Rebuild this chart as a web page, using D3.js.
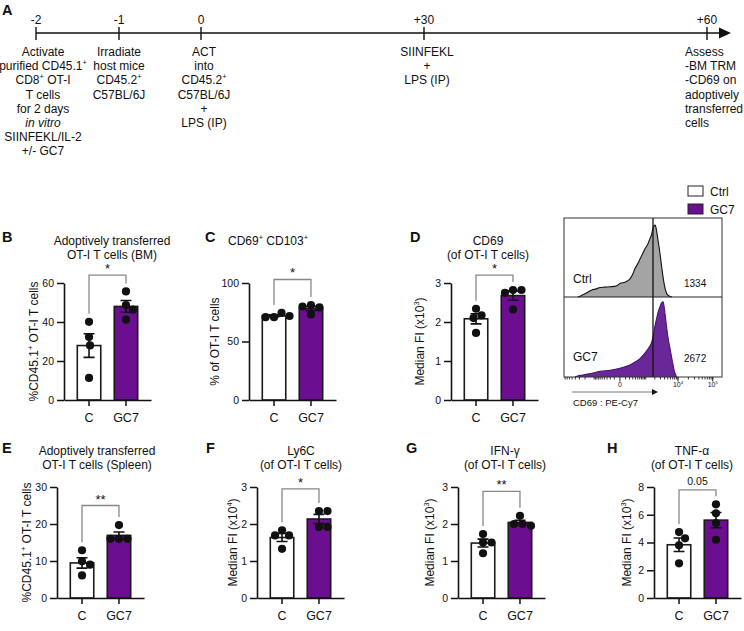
<!DOCTYPE html>
<html><head><meta charset="utf-8">
<script src="https://cdn.jsdelivr.net/npm/d3@7"></script>
<style>
body{margin:0;background:#fff}
svg{display:block}
text{font-family:"Liberation Sans",Arial,Helvetica,sans-serif;fill:#111}
</style>
</head><body>
<svg id="fig" width="744" height="631"></svg>
<script>
// ================= DATA =================
// Panel A timeline
const timelineDays = [-2, -1, 0, 30, 60];
const timelineTickLabels = ["-2", "-1", "0", "+30", "+60"];
const timelineNotes = [
  ["Activate", "purified CD45.1^{+}", "CD8^{+} OT-I", "T cells", "for 2 days", "~in vitro", "SIINFEKL/IL-2", "+/- GC7"],
  ["Irradiate", "host mice", "CD45.2^{+}", "C57BL/6J"],
  ["ACT", "into", "CD45.2^{+}", "C57BL/6J", "+", "LPS (IP)"],
  ["SIINFEKL", "+", "LPS (IP)"],
  ["Assess", "-BM TRM", "-CD69 on", "adoptively", "transferred", "cells"]
];
// groups & legend
const groups = ["C", "GC7"];
const legendLabels = ["Ctrl", "GC7"];

// Bar panels: individual mice
const bmCtrl = [40.1, 32.3, 28.0, 11.3];
const bmGC7 = [55.7, 48.7, 46.3, 41.2];
const cd103Ctrl = [70.8, 74.4, 70.8, 71.8];
const cd103GC7 = [81.2, 79.1, 73.1, 79.9];
const cd69Ctrl = [2.34, 2.17, 2.10, 1.72];
const cd69GC7 = [2.82, 2.82, 2.75, 2.32];
const spleenCtrl = [12.9, 9.9, 9.0, 6.1];
const spleenGC7 = [19.7, 16.0, 16.0, 16.0];
const ly6cCtrl = [1.83, 1.69, 1.69, 1.33];
const ly6cGC7 = [2.35, 2.35, 1.92, 1.92];
const ifngCtrl = [1.73, 1.50, 1.50, 1.21];
const ifngGC7 = [2.22, 2.00, 2.00, 1.95];
const tnfCtrl = [4.75, 4.30, 3.80, 2.50];
const tnfGC7 = [6.75, 6.10, 5.40, 4.20];

// y-axis tick values
const bmTicks = [0, 20, 40, 60];
const cd103Ticks = [0, 50, 100];
const cd69Ticks = [0, 1, 2, 3];
const spleenTicks = [0, 10, 20, 30];
const ly6cTicks = [0, 1, 2, 3];
const ifngTicks = [0, 1, 2, 3];
const tnfTicks = [0, 2, 4, 6, 8];

// significance labels and bracket heights (data units)
const sigLabels = ["*", "*", "*", "**", "*", "**", "0.05"];
const bracketLevels = [64, 103, 3.2, 25, 2.95, 2.88, 7.8];

// Histogram (CD69 : PE-Cy7), [fluorescence, % of max]
const histCtrl = [[-3300,0],[-2600,2],[-2000,4],[-1500,7],[-1200,9],[-900,10],[-600,12],[-400,12.5],[-200,13],[-60,14],[0,17],[100,19],[210,23],[300,29],[380,36],[500,42],[615,48],[780,55],[940,61],[1150,66],[1400,74],[1600,80],[1750,87],[1900,90],[2050,91],[2250,85],[2500,73],[2900,55],[3300,37],[3700,22],[4100,12],[5000,2.5],[6600,0]];
const histGC7 = [[-4100,0],[-2800,2],[-2000,3],[-1500,4],[-1100,5],[-600,7],[-200,8.5],[0,11],[210,15],[400,19],[615,23],[850,28],[1100,33],[1350,38],[1600,44],[1800,52],[2000,63],[2250,72],[2500,80],[2900,88],[3300,93],[3600,94],[3850,89],[4100,80],[4500,66],[5000,51],[5800,36],[6600,23],[8100,5],[9300,0]];
const histLabels = ["Ctrl", "GC7"];
const histMedians = ["1334", "2672"];
const histGate = 1750;
const histMajorTicks = [0, 10000, 100000];
const histMajorLabels = ["0", "10^{4}", "10^{5}"];
const histAxisLabel = "CD69 : PE-Cy7";

// ================= DRAWING =================
const svg = d3.select("#fig");
const PURPLE = "#6b0e8f";

function rich(sel, str, size) {
  const parts = str.split(/(\^\{[^}]*\})/).filter(s => s.length);
  let raised = false;
  parts.forEach(p => {
    const m = p.match(/^\^\{([^}]*)\}$/);
    if (m) {
      sel.append("tspan").attr("dy", -size * 0.42).attr("font-size", size * 0.62).text(m[1]);
      raised = true;
    } else {
      const t = sel.append("tspan").text(p);
      if (raised) { t.attr("dy", size * 0.42); raised = false; }
    }
  });
  return sel;
}
function letter(txt, x, y) {
  svg.append("text").attr("x", x).attr("y", y).attr("font-size", 14.5)
    .attr("font-weight", "bold").text(txt);
}

// ---------- Panel A ----------
letter("A", 2, 15);
const tl = d3.scaleLinear().domain(timelineDays).range([36, 119, 201, 424, 707]);
const tlY = 33;
svg.append("line").attr("x1", tl(-2)).attr("x2", 721).attr("y1", tlY).attr("y2", tlY)
  .attr("stroke", "#111").attr("stroke-width", 1.4);
svg.append("path").attr("d", `M719,${tlY-5.5} L731,${tlY} L719,${tlY+5.5} Z`).attr("fill", "#111");
svg.selectAll("line.tltick").data(timelineDays).join("line")
  .attr("x1", d => tl(d)).attr("x2", d => tl(d)).attr("y1", tlY - 6).attr("y2", tlY + 7)
  .attr("stroke", "#111").attr("stroke-width", 1.4);
svg.selectAll("text.tllab").data(timelineDays).join("text")
  .attr("x", d => tl(d)).attr("y", 24).attr("text-anchor", "middle").attr("font-size", 12)
  .text((d, i) => timelineTickLabels[i]);
const noteDx = [7, 0, 3, 3, -22];
const noteAnchor = ["middle", "middle", "middle", "middle", "start"];
timelineNotes.forEach((lines, i) => {
  lines.forEach((ln, j) => {
    const italic = ln.startsWith("~");
    const t = svg.append("text").attr("x", tl(timelineDays[i]) + noteDx[i]).attr("y", 56 + j * 14.2)
      .attr("text-anchor", noteAnchor[i]).attr("font-size", 12)
      .attr("font-style", italic ? "italic" : null);
    rich(t, italic ? ln.slice(1) : ln, 12);
  });
});

// ---------- Legend ----------
legendLabels.forEach((lab, i) => {
  const y0 = 186 + i * 18;
  svg.append("rect").attr("x", 688).attr("y", y0).attr("width", 15).attr("height", 10)
    .attr("fill", i ? PURPLE : "#fff").attr("stroke", "#222").attr("stroke-width", 1);
  svg.append("text").attr("x", 710).attr("y", y0 + 9.5).attr("font-size", 12).text(lab);
});

// ---------- Bar panels ----------
const rows = {
  top: { yTop: 283, yBot: 400, t1: 245, t2: 259, L: 242 },
  bot: { yTop: 487, yBot: 598, t1: 455, t2: 469, L: 453 }
};
const panels = [
  { L: "B", lx: 2, row: "top", ax: 64, ctrl: bmCtrl, gc7: bmGC7, ticks: bmTicks, title: ["Adoptively transferred", "OT-I T cells (BM)"], tx: 48, ylab: "%CD45.1^{+} OT-I T cells", yl: 30 },
  { L: "C", lx: 205, row: "top", ax: 249, ctrl: cd103Ctrl, gc7: cd103GC7, ticks: cd103Ticks, title: ["CD69^{+} CD103^{+}"], tx: 19, ylab: "% of OT-I T cells", yl: 34 },
  { L: "D", lx: 410, row: "top", ax: 451, ctrl: cd69Ctrl, gc7: cd69GC7, ticks: cd69Ticks, title: ["CD69", "(of OT-I T cells)"], tx: 37, ylab: "Median FI (x10^{3})", yl: 31 },
  { L: "E", lx: 2, row: "bot", ax: 57, ctrl: spleenCtrl, gc7: spleenGC7, ticks: spleenTicks, title: ["Adoptively transferred", "OT-I T cells (Spleen)"], tx: 40, ylab: "%CD45.1^{+} OT-I T cells", yl: 30 },
  { L: "F", lx: 206, row: "bot", ax: 257, ctrl: ly6cCtrl, gc7: ly6cGC7, ticks: ly6cTicks, title: ["Ly6C", "(of OT-I T cells)"], tx: 44, ylab: "Median FI (x10^{4})", yl: 24 },
  { L: "G", lx: 406, row: "bot", ax: 458, ctrl: ifngCtrl, gc7: ifngGC7, ticks: ifngTicks, title: ["IFN-γ", "(of OT-I T cells)"], tx: 47, ylab: "Median FI (x10^{3})", yl: 28 },
  { L: "H", lx: 607, row: "bot", ax: 654, ctrl: tnfCtrl, gc7: tnfGC7, ticks: tnfTicks, title: ["TNF-α", "(of OT-I T cells)"], tx: 38, ylab: "Median FI (x10^{3})", yl: 27 }
];

function swarm(vals, y, cx, d) {
  const placed = [];
  return vals.map(v => {
    const py = y(v);
    let best = 0;
    const cands = [0];
    for (let k = 1; k < 40; k++) { cands.push(k * 0.5, -k * 0.5); }
    for (const dx of cands) {
      if (placed.every(p => Math.hypot(p.x - dx, p.y - py) >= d)) { best = dx; break; }
    }
    placed.push({ x: best, y: py });
    return { v, x: cx + best, y: py };
  });
}

panels.forEach((p, pi) => {
  const r = rows[p.row];
  const g = svg.append("g");
  const x = d3.scaleBand().domain(groups).range([p.ax, p.ax + 87]).paddingInner(0.365).paddingOuter(0.36);
  const y = d3.scaleLinear().domain([0, d3.max(p.ticks)]).range([r.yBot, r.yTop]);
  const stats = [p.ctrl, p.gc7].map((vals, i) => ({
    g: groups[i], vals, mean: d3.mean(vals), sem: d3.deviation(vals) / Math.sqrt(vals.length)
  }));
  // bars
  g.selectAll("rect.bar").data(stats).join("rect")
    .attr("x", d => x(d.g)).attr("y", d => y(d.mean))
    .attr("width", x.bandwidth()).attr("height", d => y(0) - y(d.mean))
    .attr("fill", (d, i) => i ? PURPLE : "#fff").attr("stroke", "#1b1b1b").attr("stroke-width", 1.6);
  // error bars
  const cx = d => x(d.g) + x.bandwidth() / 2;
  g.selectAll("path.err").data(stats).join("path")
    .attr("d", d => {
      const c = cx(d), lo = y(d.mean - d.sem), hi = y(d.mean + d.sem);
      return `M${c},${lo}V${hi}M${c - 5.5},${hi}H${c + 5.5}M${c - 5.5},${lo}H${c + 5.5}`;
    })
    .attr("stroke", "#111").attr("stroke-width", 1.6).attr("fill", "none");
  // points
  stats.forEach(s => {
    const pts = swarm(s.vals, y, cx(s), 8.4);
    g.selectAll(null).data(pts).join("circle")
      .attr("cx", d => d.x).attr("cy", d => d.y).attr("r", 4.1).attr("fill", "#111");
  });
  // axes
  const ya = d3.axisLeft(y).tickValues(p.ticks).tickFormat(d3.format("d")).tickSize(7).tickPadding(3).tickSizeOuter(0);
  const yg = g.append("g").attr("transform", `translate(${p.ax},0)`).call(ya);
  yg.select(".domain").attr("stroke", "#111").attr("stroke-width", 1.6);
  yg.selectAll(".tick line").attr("stroke", "#111").attr("stroke-width", 1.5);
  yg.selectAll(".tick text").attr("font-size", 10.5).attr("fill", "#333").attr("font-family", null);
  const xa = d3.axisBottom(x).tickSize(6).tickPadding(7).tickSizeOuter(0);
  const xg = g.append("g").attr("transform", `translate(0,${y(0)})`).call(xa);
  xg.select(".domain").attr("stroke", "#111").attr("stroke-width", 1.6);
  xg.selectAll(".tick line").attr("stroke", "#111").attr("stroke-width", 1.5);
  xg.selectAll(".tick text").attr("font-size", 12.5).attr("fill", "#111").attr("font-family", null);
  // y label
  const yl = g.append("text").attr("transform", `translate(${p.ax - p.yl},${(r.yTop + r.yBot) / 2}) rotate(-90)`)
    .attr("text-anchor", "middle").attr("dy", "0.35em").attr("font-size", 12);
  rich(yl, p.ylab, 12);
  // title
  p.title.forEach((t, i) => {
    const tt = g.append("text").attr("x", p.ax + p.tx).attr("y", i ? r.t2 : r.t1)
      .attr("text-anchor", "middle").attr("font-size", 12);
    rich(tt, t, 12);
  });
  letter(p.L, p.lx, r.L);
  // significance bracket
  const tops = stats.map(s => y(Math.max(d3.max(s.vals), s.mean + s.sem)) - 8);
  const by = y(bracketLevels[pi]);
  const c0 = cx(stats[0]), c1 = cx(stats[1]);
  g.append("path").attr("d", `M${c0},${tops[0]}V${by}H${c1}V${tops[1]}`)
    .attr("fill", "none").attr("stroke", "#888").attr("stroke-width", 1.3);
  const isNum = /\d/.test(sigLabels[pi]);
  g.append("text").attr("x", (c0 + c1) / 2).attr("y", isNum ? by - 5 : by - 2)
    .attr("text-anchor", "middle").attr("font-size", isNum ? 10.5 : 13).text(sigLabels[pi]);
});

// ---------- Histogram ----------
const box = { x0: 564, x1: 722, y0: 218, ym: 297, y1: 377 };
const hx = d3.scaleSymlog().constant(225).domain([-8660, 184000]).range([box.x0, box.x1]);
const hyC = d3.scaleLinear().domain([0, 100]).range([box.ym, box.y0]);
const hyG = d3.scaleLinear().domain([0, 100]).range([box.y1, box.ym]);
const hg = svg.append("g");
[[histCtrl, hyC, "#a4a4a4", "#111"], [histGC7, hyG, "#6a2797", "#4a1270"]].forEach(([dat, yy, fill, stroke]) => {
  hg.append("path").datum(dat)
    .attr("d", d3.area().x(d => hx(d[0])).y0(yy(0)).y1(d => yy(d[1])).curve(d3.curveMonotoneX))
    .attr("fill", fill);
  hg.append("path").datum(dat)
    .attr("d", d3.line().x(d => hx(d[0])).y(d => yy(d[1])).curve(d3.curveMonotoneX))
    .attr("fill", "none").attr("stroke", stroke).attr("stroke-width", 1.1);
});
hg.append("rect").attr("x", box.x0).attr("y", box.y0).attr("width", box.x1 - box.x0).attr("height", box.y1 - box.y0)
  .attr("fill", "none").attr("stroke", "#333").attr("stroke-width", 1);
hg.append("line").attr("x1", box.x0).attr("x2", box.x1).attr("y1", box.ym).attr("y2", box.ym)
  .attr("stroke", "#222").attr("stroke-width", 1);
hg.append("line").attr("x1", hx(histGate)).attr("x2", hx(histGate)).attr("y1", box.y0).attr("y2", box.y1)
  .attr("stroke", "#111").attr("stroke-width", 1.3);
histLabels.forEach((lab, i) => {
  const base = i ? box.y1 : box.ym;
  hg.append("text").attr("x", box.x0 + 9).attr("y", base - (i ? 16 : 14)).attr("font-size", 12).text(lab);
  hg.append("text").attr("x", box.x0 + 120).attr("y", base - (i ? 15 : 10)).attr("font-size", 10).attr("fill", "#333").text(histMedians[i]);
});
// minor/major ticks (biexponential display)
const minor = [];
[100, 1000, 10000, 100000].forEach(dec => {
  for (let k = 1; k <= 9; k++) {
    const v = dec * k;
    if (v < 184000) minor.push(v);
    if (v < 8660) minor.push(-v);
  }
});
hg.selectAll("line.mt").data(minor).join("line")
  .attr("x1", d => hx(d)).attr("x2", d => hx(d)).attr("y1", box.y1).attr("y2", box.y1 + 2.5)
  .attr("stroke", "#222").attr("stroke-width", 0.9);
hg.selectAll("line.Mt").data(histMajorTicks).join("line")
  .attr("x1", d => hx(d)).attr("x2", d => hx(d)).attr("y1", box.y1).attr("y2", box.y1 + 4.5)
  .attr("stroke", "#222").attr("stroke-width", 1);
histMajorTicks.forEach((v, i) => {
  const t = hg.append("text").attr("x", hx(v)).attr("y", box.y1 + 10).attr("text-anchor", "middle")
    .attr("font-size", 7).attr("fill", "#555");
  rich(t, histMajorLabels[i], 7);
});
hg.append("line").attr("x1", box.x0 + 8).attr("x2", hx(histGate) + 1).attr("y1", box.y1 + 15).attr("y2", box.y1 + 15)
  .attr("stroke", "#666").attr("stroke-width", 0.9);
hg.append("path").attr("d", `M${hx(histGate) + 5},${box.y1 + 15} l-6,-3 v6 Z`).attr("fill", "#111");
hg.append("text").attr("x", box.x0 + 9).attr("y", box.y1 + 29).attr("font-size", 9.5).attr("fill", "#222").text(histAxisLabel);
</script>
</body></html>
